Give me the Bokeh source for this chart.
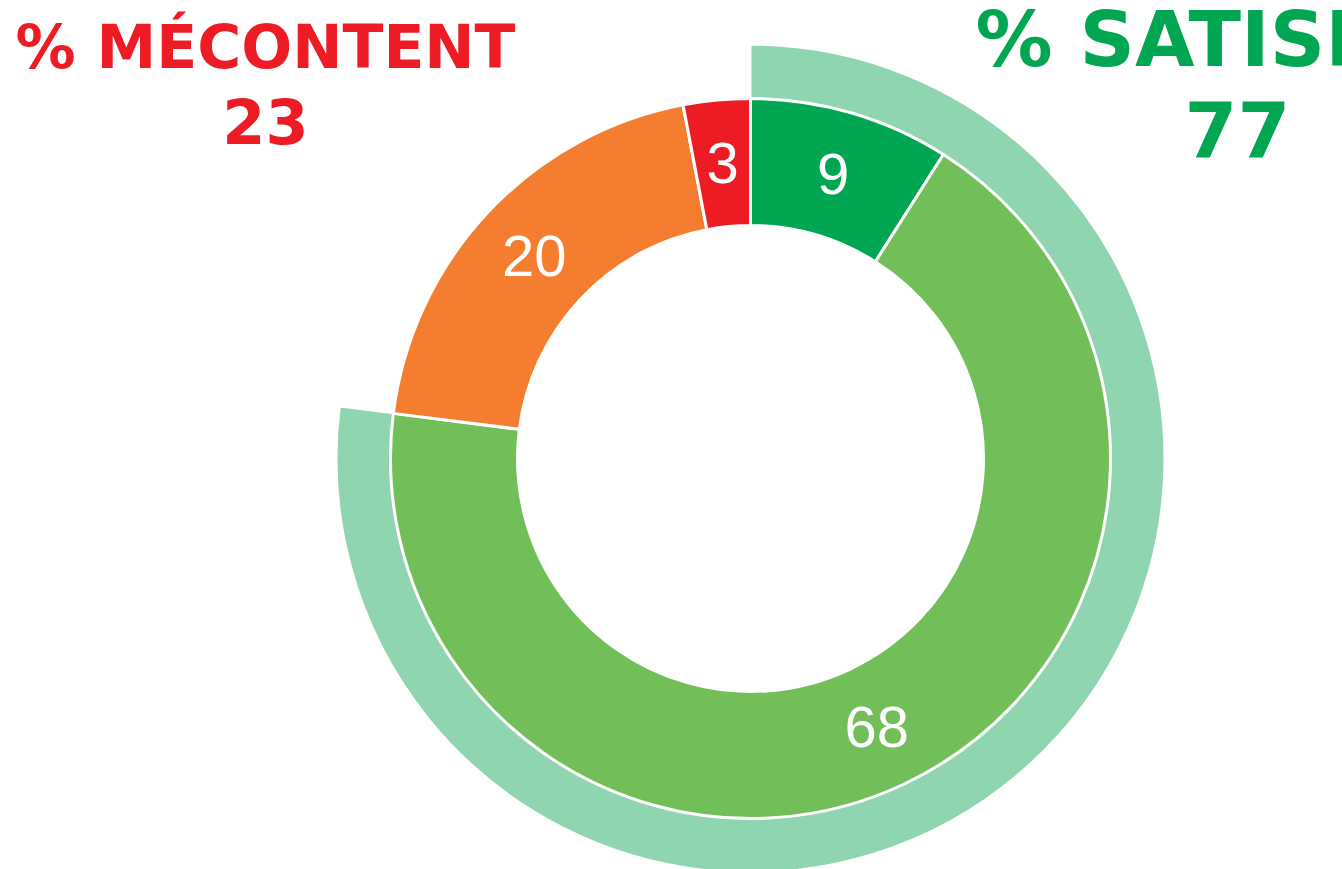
import numpy as np
from bokeh.plotting import figure
from bokeh.models import Range1d, ColumnDataSource
from bokeh.core.properties import value
from bokeh.embed import file_html
from bokeh.resources import INLINE

# ---- data ----
categories = ["Très satisfait", "Satisfait", "Peu satisfait", "Pas du tout satisfait"]
values = [9, 68, 20, 3]
colors = ["#00A651", "#72BF5A", "#F47D30", "#ED1C24"]
outer_labels = ["% SATISFAIT", "% MÉCONTENT"]
outer_values = [77, 23]
outer_color = "#8FD5B0"
title_colors = ["#00A651", "#ED1C24"]

W, H = 1342, 869
p = figure(width=W, height=H, output_backend="svg", toolbar_location=None,
           x_range=Range1d(0, W), y_range=Range1d(0, H),
           min_border=0, outline_line_color=None)
p.axis.visible = False
p.grid.visible = False
p.background_fill_color = "white"

cx, cy = 750, H - 458
r_in, r_mid, r_out = 233, 360, 414

total = sum(values)
cum = np.cumsum([0] + values)
start = np.pi / 2 - 2 * np.pi * cum[:-1] / total
end = np.pi / 2 - 2 * np.pi * cum[1:] / total
src = ColumnDataSource(dict(start=start, end=end, color=colors, cat=categories))

# outer ring: satisfied share
o_start = np.pi / 2
o_end = np.pi / 2 - 2 * np.pi * outer_values[0] / sum(outer_values)
p.annular_wedge(x=cx, y=cy, inner_radius=r_mid, outer_radius=r_out,
                start_angle=o_start, end_angle=o_end, direction="clock",
                fill_color=outer_color, line_color="white", line_width=2)

p.annular_wedge(x=cx, y=cy, inner_radius=r_in, outer_radius=r_mid,
                start_angle="start", end_angle="end", direction="clock",
                fill_color="color", line_color="white", line_width=3, source=src)

# value labels
mid = (start + end) / 2
rl = (r_in + r_mid) / 2
lx = cx + rl * np.cos(mid)
ly = cy + rl * np.sin(mid)
p.text(x=lx, y=ly, text=[str(v) for v in values], text_color="white",
       text_font=value("Liberation Sans"), text_font_size="58px",
       text_align="center", text_baseline="middle")

# titles
p.text(x=[265], y=[H - 46], text=[outer_labels[1]], text_color=title_colors[1],
       text_font=value("DejaVu Sans"), text_font_style="bold", text_font_size="60px",
       text_align="center", text_baseline="middle")
p.text(x=[265], y=[H - 120], text=[str(outer_values[1])], text_color=title_colors[1],
       text_font=value("DejaVu Sans"), text_font_style="bold", text_font_size="62px",
       text_align="center", text_baseline="middle")
p.text(x=[975], y=[H - 39], text=[outer_labels[0]], text_color=title_colors[0],
       text_font=value("DejaVu Sans"), text_font_style="bold", text_font_size="77px",
       text_align="left", text_baseline="middle")
p.text(x=[1237], y=[H - 128], text=[str(outer_values[0])], text_color=title_colors[0],
       text_font=value("DejaVu Sans"), text_font_style="bold", text_font_size="76px",
       text_align="center", text_baseline="middle")

open("out.html", "w").write(file_html(p, INLINE))
